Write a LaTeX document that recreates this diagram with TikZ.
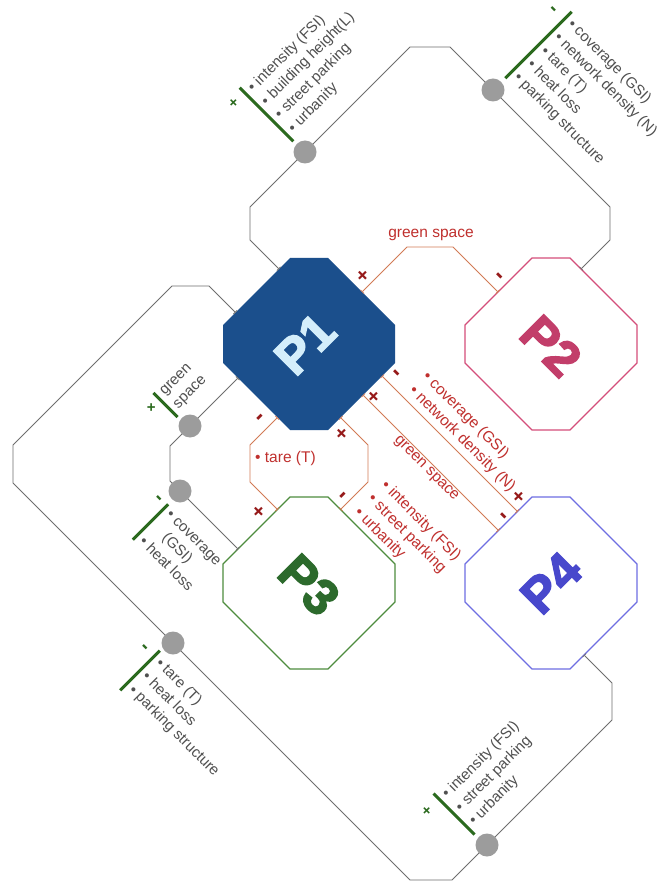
\documentclass[tikz,border=0pt]{standalone}
\usepackage{fontspec}
\setmainfont{Liberation Sans}
\newfontfamily\pfont{Liberation Sans}[UprightFont={* Bold},RawFeature={embolden=3}]
\usetikzlibrary{arrows.meta}
\definecolor{p1fill}{HTML}{1B4F8C}
\definecolor{p1text}{HTML}{D4EEFB}
\definecolor{p2c}{HTML}{D44E7A}
\definecolor{p2t}{HTML}{C23E6A}
\definecolor{p3c}{HTML}{4E8C3E}
\definecolor{p3t}{HTML}{2C6A2C}
\definecolor{p4c}{HTML}{6E6EE2}
\definecolor{p4t}{HTML}{4848CC}
\definecolor{gline}{HTML}{6E6E6E}
\definecolor{gdot}{HTML}{9C9C9C}
\definecolor{gbar}{HTML}{2B6A1E}
\definecolor{gtext}{HTML}{505050}
\definecolor{rline}{HTML}{D27A55}
\definecolor{rtext}{HTML}{C0302E}
\definecolor{rsign}{HTML}{961A1A}
\tikzset{
  octo/.style={line width=1.1pt, line join=miter},
  glink/.style={draw=gline, line width=0.8pt, {Bar[width=5pt]}-{Bar[width=5pt]}},
  rlink/.style={draw=rline, line width=0.8pt, {Bar[width=5pt]}-{Bar[width=5pt]}},
  gdotn/.style={circle, fill=gdot, minimum size=23pt, inner sep=0pt},
  gbarl/.style={draw=gbar, line width=3pt},
  glbl/.style={font=\fontsize{15}{19}\selectfont, text=gtext, align=left, inner sep=0pt},
  rlbl/.style={font=\fontsize{15.5}{19}\selectfont, text=rtext, align=left, inner sep=0pt},
  gplus/.style={font=\bfseries\fontsize{15}{15}\selectfont, text=gbar, inner sep=0pt},
  gminus/.style={font=\bfseries\fontsize{20}{20}\selectfont, text=gbar, inner sep=0pt},
  rplus/.style={font=\bfseries\fontsize{20}{20}\selectfont, text=rsign, inner sep=0pt},
  rminus/.style={font=\bfseries\fontsize{24}{24}\selectfont, text=rsign, inner sep=0pt},
  plabel/.style={font=\pfont\fontsize{50}{50}\selectfont, inner sep=0pt},
}
\begin{document}
\begin{tikzpicture}[x=1pt,y=-1pt]
\useasboundingbox[fill=white] (0,0) rectangle (662,882);

% octagons
\fill[p1fill, shift={(309,344)}] (-19,-86) -- (19,-86) -- (86,-19) -- (86,19) -- (19,86) -- (-19,86) -- (-86,19) -- (-86,-19) -- cycle;
\draw[octo, draw=p2c, fill=white, shift={(551,344)}] (-19,-86) -- (19,-86) -- (86,-19) -- (86,19) -- (19,86) -- (-19,86) -- (-86,19) -- (-86,-19) -- cycle;
\draw[octo, draw=p3c, fill=white, shift={(309,583)}] (-19,-86) -- (19,-86) -- (86,-19) -- (86,19) -- (19,86) -- (-19,86) -- (-86,19) -- (-86,-19) -- cycle;
\draw[octo, draw=p4c, fill=white, shift={(551,583)}] (-19,-86) -- (19,-86) -- (86,-19) -- (86,19) -- (19,86) -- (-19,86) -- (-86,19) -- (-86,-19) -- cycle;

\node[plabel, text=p1text, rotate=45] (P1) at (305,344) {P1};
\node[plabel, text=p2t, rotate=-45] (P2) at (551,346) {P2};
\node[plabel, text=p3t, rotate=-45] (P3) at (309,585) {P3};
\node[plabel, text=p4t, rotate=45] (P4) at (551,583) {P4};

% connector end points on the octagons
\coordinate (p1a) at (279,269);
\coordinate (p2a) at (581,269);
\coordinate (p1b) at (238,378);
\coordinate (p3b) at (238,549);
\coordinate (p1c) at (235.5,312.5);
\coordinate (p4c) at (584,655);
\coordinate (p1d) at (362,292);
\coordinate (p2d) at (498,292);
\coordinate (p1e) at (277.5,417.5);
\coordinate (p3e) at (277.5,509.5);
\coordinate (p1f) at (340.5,417.5);
\coordinate (p3f) at (340.5,509.5);
\coordinate (p1g) at (382,376);
\coordinate (p4g) at (517.5,511.5);
\coordinate (p1h) at (363,395);
\coordinate (p4h) at (498.5,530.5);

% grey connectors
\draw[glink] (p1a) -- (250,240) -- (250,207) -- (410,47) -- (450,47) -- (610,207) -- (610,240) -- (p2a);
\draw[glink] (p1b) -- (170,446) -- (170,481) -- (p3b);
\draw[glink] (p1c) -- (209,286) -- (172,286) -- (13,445) -- (13,483) -- (410,880) -- (452,880) -- (612,720) -- (612,683) -- (p4c);

\node[gdotn] (c1) at (305,152) {};
\node[gdotn] (c2) at (493,90) {};
\node[gdotn] (c3) at (190,426) {};
\node[gdotn] (c4) at (180,491) {};
\node[gdotn] (c5) at (173,643) {};
\node[gdotn] (c6) at (487,845) {};

% red connectors
\draw[rlink] (p1d) -- (407,247) -- (453,247) -- (p2d);
\draw[rlink] (p1e) -- (250,445) -- (250,482) -- (p3e);
\draw[rlink] (p1f) -- (368,445) -- (368,482) -- (p3f);
\draw[rlink] (p1g) -- (p4g);
\draw[rlink] (p1h) -- (p4h);

% grey label groups
\begin{scope}[shift={(266.5,114.5)}, rotate=45]
  \draw[gbarl] (0,-38) -- (0,38);
  \node[gplus, rotate=45] (s1) at (-15,-31) {+};
  \node[glbl, anchor=west, rotate=45] (t1) at (6,0) {\textbullet\ intensity (FSI)\\\textbullet\ building height(L)\\\textbullet\ street parking\\\textbullet\ urbanity};
\end{scope}
\begin{scope}[shift={(538.5,45)}, rotate=-45]
  \draw[gbarl] (0,-47) -- (0,47);
  \node[gminus, rotate=-45] (s2) at (-15,-34) {-};
  \node[glbl, anchor=west, rotate=-45] (t2) at (6,0) {\textbullet\ coverage (GSI)\\\textbullet\ network density (N)\\\textbullet\ tare (T)\\\textbullet\ heat loss\\\textbullet\ parking structure};
\end{scope}
\begin{scope}[shift={(165.5,405)}, rotate=45]
  \draw[gbarl] (0,-17) -- (0,17);
  \node[gplus] (s3) at (-12,-8) {+};
  \node[glbl, anchor=west, rotate=45] (t3) at (6,0) {green\\space};
\end{scope}
\begin{scope}[shift={(150.5,522)}, rotate=-45]
  \draw[gbarl] (0,-25) -- (0,25);
  \node[gminus, rotate=-45] (s4) at (-11,-21) {-};
  \node[glbl, anchor=west, rotate=-45] (t4) at (6,0) {\textbullet\ coverage\\\hspace*{0.9em}(GSI)\\\textbullet\ heat loss};
\end{scope}
\begin{scope}[shift={(140,670.5)}, rotate=-45]
  \draw[gbarl] (0,-28) -- (0,28);
  \node[gminus, rotate=-45] (s5) at (-13,-18) {-};
  \node[glbl, anchor=west, rotate=-45] (t5) at (6,0) {\textbullet\ tare (T)\\\textbullet\ heat loss\\\textbullet\ parking structure};
\end{scope}
\begin{scope}[shift={(454,814)}, rotate=45]
  \draw[gbarl] (0,-29) -- (0,29);
  \node[gplus, rotate=45] (s6) at (-17,-21) {+};
  \node[glbl, anchor=west, rotate=45] (t6) at (6,0) {\textbullet\ intensity (FSI)\\\textbullet\ street parking\\\textbullet\ urbanity};
\end{scope}

% red labels
\node[rlbl] (l1) at (431,235) {green space};
\node[rlbl, anchor=west] (l2) at (255,458) {\textbullet\ tare (T)};
\node[rlbl, anchor=west, rotate=-45] (l3) at (370,497) {\textbullet\ intensity (FSI)\\\textbullet\ street parking\\\textbullet\ urbanity};
\node[rlbl, anchor=west, rotate=-45] (l4) at (418,381.5) {\textbullet\ coverage (GSI)\\\textbullet\ network density (N)};
\node[rlbl, rotate=-45] (l5) at (426,469) {green space};

% red signs
\node[rplus, rotate=45] (r1) at (363,276) {+};
\node[rminus, rotate=-45] (r2) at (498,278) {-};
\node[rminus, rotate=45] (r3) at (262,419) {-};
\node[rplus, rotate=45] (r4) at (259,512) {+};
\node[rplus, rotate=45] (r5) at (342,434) {+};
\node[rminus, rotate=45] (r6) at (345,497) {-};
\node[rminus, rotate=-45] (r7) at (395,375) {-};
\node[rplus, rotate=45] (r8) at (519,497) {+};
\node[rplus, rotate=45] (r9) at (374,397) {+};
\node[rminus, rotate=-45] (r10) at (502,518) {-};
\end{tikzpicture}
\end{document}
